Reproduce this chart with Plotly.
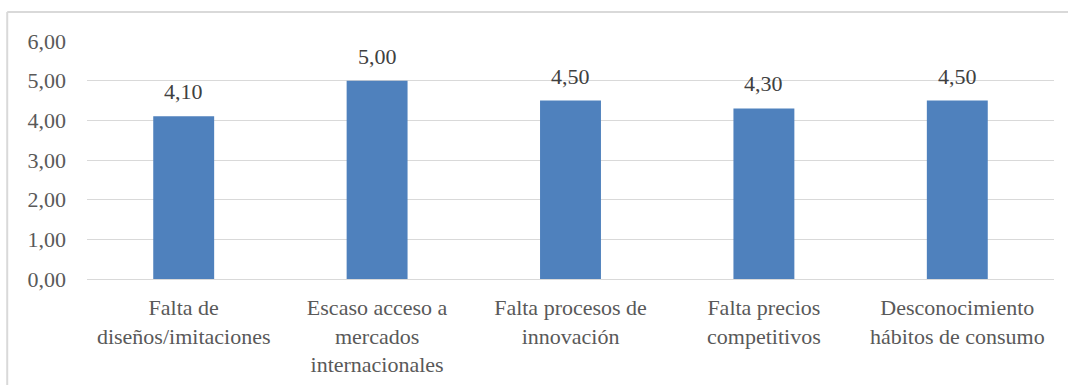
import plotly.graph_objects as go

categories = [
    "Falta de<br>diseños/imitaciones",
    "Escaso acceso a<br>mercados<br>internacionales",
    "Falta procesos de<br>innovación",
    "Falta precios<br>competitivos",
    "Desconocimiento<br>hábitos de consumo",
]
values = [4.10, 5.00, 4.50, 4.30, 4.50]
value_labels = ["4,10", "5,00", "4,50", "4,30", "4,50"]
tick_vals = [0, 1, 2, 3, 4, 5, 6]
tick_text = ["0,00", "1,00", "2,00", "3,00", "4,00", "5,00", "6,00"]

FONT = "'Liberation Serif', 'Times New Roman', serif"
SIZE = 22

fig = go.Figure(
    go.Bar(
        x=categories,
        y=values,
        marker=dict(color="#4f81bd", line=dict(width=0)),
        hoverinfo="skip",
    )
)

# value labels above each bar
for cat, val, lab in zip(categories, values, value_labels):
    fig.add_annotation(
        x=cat, y=val, text=lab, showarrow=False,
        yanchor="bottom", yshift=10,
        font=dict(family=FONT, size=SIZE, color="#404040"),
    )

fig.update_layout(
    width=1068,
    height=385,
    margin=dict(l=87, r=14, t=41, b=106),
    paper_bgcolor="white",
    plot_bgcolor="white",
    bargap=0.685,
    showlegend=False,
    font=dict(family=FONT, size=SIZE, color="#595959"),
    xaxis=dict(
        showgrid=False,
        showline=False,
        ticks="",
        automargin=False,
        ticklabelstandoff=13,
        tickfont=dict(family=FONT, size=SIZE, color="#595959"),
        fixedrange=True,
    ),
    yaxis=dict(
        range=[0, 6],
        tickvals=tick_vals,
        ticktext=tick_text,
        showgrid=True,
        gridcolor="#d9d9d9",
        gridwidth=1.3,
        zeroline=True,
        zerolinecolor="#d9d9d9",
        zerolinewidth=1.3,
        showline=False,
        ticks="",
        automargin=False,
        ticklabelstandoff=20,
        tickfont=dict(family=FONT, size=SIZE, color="#595959"),
        fixedrange=True,
    ),
    shapes=[
        # chart frame: left edge and top edge
        dict(type="line", xref="paper", yref="paper",
             x0=-0.0825, x1=-0.0825, y0=-0.5, y1=1.122,
             line=dict(color="#d9d9d9", width=2)),
        dict(type="line", xref="paper", yref="paper",
             x0=-0.0825, x1=1.02, y0=1.122, y1=1.122,
             line=dict(color="#d9d9d9", width=2)),
    ],
)

fig.write_html("out.html")
